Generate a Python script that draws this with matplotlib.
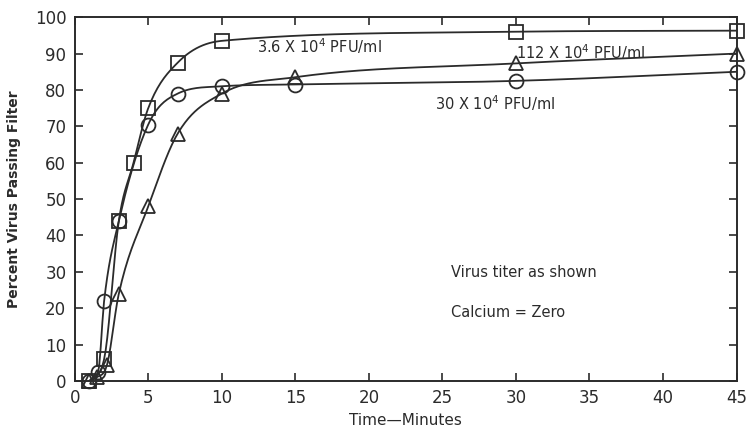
import numpy as np
import matplotlib
matplotlib.use("Agg")
from matplotlib import pyplot as plt

# readings from the figure
sq_x = [1, 2, 3, 4, 5, 7, 10, 30, 45]
sq_y = [0, 6, 44, 60, 75, 87.5, 93.5, 96, 96.3]

ci_x = [1, 1.6, 2, 3, 5, 7, 10, 15, 30, 45]
ci_y = [0, 2.5, 22, 44, 70.5, 79, 81, 81.5, 82.5, 85]

tr_x = [1, 1.5, 2.2, 3, 5, 7, 10, 15, 30, 45]
tr_y = [0, 1, 4.5, 24, 48, 68, 79, 83.5, 87.3, 90]

x_ticks = [0, 5, 10, 15, 20, 25, 30, 35, 40, 45]
y_ticks = [0, 10, 20, 30, 40, 50, 60, 70, 80, 90, 100]

ink = '#2b2b2b'


def smooth(x, y, n=400):
    # monotone cubic through the points, for drawing the hand-drawn curve
    x = np.asarray(x, float)
    y = np.asarray(y, float)
    h = np.diff(x)
    d = np.diff(y) / h
    m = np.zeros_like(y)
    m[0] = d[0]
    m[-1] = d[-1]
    for i in range(1, len(x) - 1):
        if d[i - 1] * d[i] <= 0:
            m[i] = 0
        else:
            # plain average of neighbouring slopes, capped to stay monotone
            m[i] = min(0.5 * (d[i - 1] + d[i]), 3 * min(d[i - 1], d[i]))
    xs = np.linspace(x[0], x[-1], n)
    idx = np.clip(np.searchsorted(x, xs) - 1, 0, len(x) - 2)
    t = (xs - x[idx]) / h[idx]
    h00 = 2 * t**3 - 3 * t**2 + 1
    h10 = t**3 - 2 * t**2 + t
    h01 = -2 * t**3 + 3 * t**2
    h11 = t**3 - t**2
    ys = h00 * y[idx] + h10 * h[idx] * m[idx] + h01 * y[idx + 1] + h11 * h[idx] * m[idx + 1]
    return xs, ys


fig = plt.figure(figsize=(7.47, 4.41), dpi=100)
ax = fig.add_axes([0.100, 0.136, 0.886, 0.825])

for xs, ys, mk in [(sq_x, sq_y, 's'), (ci_x, ci_y, 'o'), (tr_x, tr_y, '^')]:
    cx, cy = smooth(xs, ys)
    ax.plot(cx, cy, color=ink, lw=1.3)
    ax.plot(xs, ys, mk, ms=10, mfc='none', mec=ink, mew=1.3, clip_on=False)

ax.set_xlim(0, 45)
ax.set_ylim(0, 100)
ax.set_xticks(x_ticks)
ax.set_yticks(y_ticks)
ax.tick_params(direction='in', length=6, width=1.2, color=ink, labelcolor=ink,
               labelsize=12, top=True, right=True, pad=6)
for s in ax.spines.values():
    s.set_color(ink)
    s.set_linewidth(1.4)

ax.set_xlabel('Time\u2014Minutes', fontsize=11, color=ink)
ax.set_ylabel('Percent Virus Passing Filter', fontsize=10, color=ink, fontweight='bold', labelpad=10)

ax.text(12.4, 92, '3.6 X 10$^4$ PFU/ml', fontsize=10.5, color=ink, va='center')
ax.text(30, 90.5, '112 X 10$^4$ PFU/ml', fontsize=10.5, color=ink, va='center')
ax.text(24.5, 76.5, '30 X 10$^4$ PFU/ml', fontsize=10.5, color=ink, va='center')
ax.text(25.6, 29.7, 'Virus titer as shown', fontsize=10.5, color=ink, va='center')
ax.text(25.6, 18.7, 'Calcium = Zero', fontsize=10.5, color=ink, va='center')

fig.savefig('out.png', dpi=100)
